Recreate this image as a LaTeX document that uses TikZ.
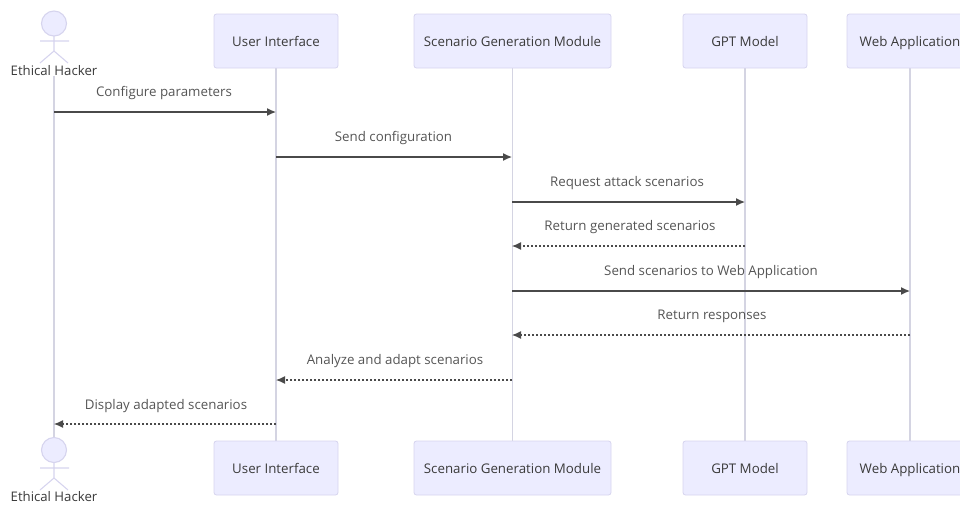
\documentclass[tikz,border=0pt]{standalone}
\usepackage{fontspec}
\setmainfont{Open Sans}
\usetikzlibrary{arrows.meta,backgrounds}
\definecolor{actorfill}{HTML}{ECECFF}
\definecolor{actorline}{HTML}{D6D4EE}
\definecolor{lifeline}{HTML}{D4D4E2}
\definecolor{msgline}{HTML}{4A4A4A}
\definecolor{msgtext}{HTML}{555555}
\definecolor{boxtext}{HTML}{3A3A3A}
\tikzset{
  x=1pt,y=-1pt,
  actorbox/.style={draw=actorline,line width=0.8pt,fill=actorfill,rounded corners=2.5pt,minimum height=54pt,inner sep=0pt,text height=13.5pt,text depth=3pt,text=boxtext,font=\fontsize{13.3}{15}\selectfont},
  actorlabel/.style={inner sep=0pt,text=boxtext,font=\fontsize{13.2}{15}\selectfont},
  stick/.style={draw=actorline,line width=1.1pt},
  head/.style={draw=actorline,line width=1.1pt,fill=actorfill},
  life/.style={draw=lifeline,line width=1.5pt},
  msg/.style={draw=msgline,line width=1.25pt,-{Latex[length=9pt,width=8pt]}},
  msgdash/.style={msg,line width=1.1pt,dash pattern=on 2.5pt off 1.5pt},
  msglabel/.style={inner sep=0pt,text=msgtext,font=\fontsize{13.3}{15}\selectfont},
}
\begin{document}
\begin{tikzpicture}
\useasboundingbox (0,0) rectangle (960,504);
\clip (0,0) rectangle (960,504);
% coordinates on the lifelines
\foreach \n/\x in {h/54,u/276,s/512,g/745,w/910}{
  \foreach \i/\y in {1/112,2/157,3/202,4/246,5/291,6/335,7/380,8/424}{
    \coordinate (\n\i) at (\x,\y);
  }
}
% boxes
\node[actorbox,minimum width=124pt] (uiTop) at (276,41) {User Interface};
\node[actorbox,minimum width=124pt] (uiBot) at (276,468) {User Interface};
\node[actorbox,minimum width=197pt] (sgTop) at (512.5,41) {Scenario Generation Module};
\node[actorbox,minimum width=197pt] (sgBot) at (512.5,468) {Scenario Generation Module};
\node[actorbox,minimum width=124pt] (gpTop) at (745,41) {GPT Model};
\node[actorbox,minimum width=124pt] (gpBot) at (745,468) {GPT Model};
\node[actorbox,minimum width=126pt] (wbTop) at (910,41) {Web Application};
\node[actorbox,minimum width=126pt] (wbBot) at (910,468) {Web Application};
% actor labels
\node[actorlabel] (hackerTop) at (54,70.5) {Ethical Hacker};
\node[actorlabel] (hackerBot) at (54,496.5) {Ethical Hacker};
% top actor
\draw[head] (54,23.5) circle (12.5);
\draw[stick] (54,36) -- (54,51) (40,41) -- (69,41) (54,51) -- (40,63) (54,51) -- (68,63);
\coordinate (hackerHead) at (54,437);
% bottom actor
\draw[head] (54,450) circle (12.5);
\draw[stick] (54,462.5) -- (54,478) (40,468) -- (69,468) (54,478) -- (40,490) (54,478) -- (68,490);
% lifelines behind everything
\begin{scope}[on background layer]
\draw[life] (hackerTop) -- (hackerHead);
\draw[life] (uiTop) -- (uiBot);
\draw[life] (sgTop) -- (sgBot);
\draw[life] (gpTop) -- (gpBot);
\draw[life] (wbTop) -- (wbBot);
\end{scope}
% messages
\draw[msg] (h1) -- (u1);
\draw[msg] (u2) -- (s2);
\draw[msg] (s3) -- (g3);
\draw[msgdash] (g4) -- (s4);
\draw[msg] (s5) -- (w5);
\draw[msgdash] (w6) -- (s6);
\draw[msgdash] (s7) -- (u7);
\draw[msgdash] (u8) -- (h8);
% labels
\node[msglabel] (l1) at (164,93) {Configure parameters};
\node[msglabel] (l2) at (393.5,138) {Send configuration};
\node[msglabel] (l3) at (627,183) {Request attack scenarios};
\node[msglabel] (l4) at (630,227) {Return generated scenarios};
\node[msglabel] (l5) at (711,272) {Send scenarios to Web Application};
\node[msglabel] (l6) at (712,316) {Return responses};
\node[msglabel] (l7) at (395,361) {Analyze and adapt scenarios};
\node[msglabel] (l8) at (166,406) {Display adapted scenarios};
\end{tikzpicture}
\end{document}
